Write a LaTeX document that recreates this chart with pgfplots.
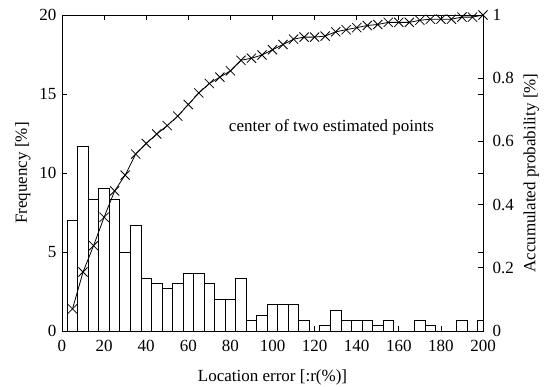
\documentclass[border=0pt]{standalone}
\usepackage{fontspec}
\setmainfont{Liberation Serif}
\usepackage{pgfplots}
\pgfplotsset{compat=1.18}
\pgfplotsset{every axis/.append style={font=\fontsize{17}{20}\selectfont, /pgf/number format/assume math mode=true}}
\begin{document}
\begin{tikzpicture}
\begin{axis}[
  at={(0,0)}, anchor=south west,
  scale only axis, width=421pt, height=316pt,
  xmin=0, xmax=200, ymin=0, ymax=20,
  xtick={0,20,...,200}, ytick={0,5,...,20},
  tick align=inside, tick pos=both,
  major tick length=5pt,
  axis line style={line width=0.9pt},
  every tick/.style={black, line width=0.8pt},
  xticklabel shift=6pt,
  yticklabel shift=2pt,
  xlabel={Location error [:r(\%)]},
  xlabel shift=11pt,
  ylabel={Frequency [\%]},
  ylabel shift=2pt,
  clip=true,
]
\addplot[ybar, bar width=5, fill=white, draw=black, line width=0.8pt] coordinates {
(5,7.0) (10,11.67) (15,8.33) (20,9.0) (25,8.33) (30,5.0) (35,6.67) (40,3.33)
(45,3.0) (50,2.67) (55,3.0) (60,3.67) (65,3.67) (70,3.0) (75,2.0) (80,2.0)
(85,3.33) (90,0.67) (95,1.0) (100,1.67) (105,1.67) (110,1.67) (115,0.67) (120,0)
(125,0.33) (130,1.33) (135,0.67) (140,0.67) (145,0.67) (150,0.33) (155,0.67) (160,0)
(165,0) (170,0.67) (175,0.33) (180,0) (185,0) (190,0.67) (195,0) (200,0.67)
};
\node[anchor=center] at (axis cs:128,12.9) {center of two estimated points};
\end{axis}
\begin{axis}[
  at={(0,0)}, anchor=south west,
  scale only axis, width=421pt, height=316pt,
  xmin=0, xmax=200, ymin=0, ymax=1,
  axis y line*=right, axis x line=none,
  ytick={0,0.2,...,1},
  yticklabel style={/pgf/number format/fixed},
  yticklabel shift=6pt,
  tick align=inside,
  major tick length=5pt,
  axis line style={line width=0.9pt},
  every tick/.style={black, line width=0.8pt},
  ylabel={Accumulated probability [\%]},
  ylabel shift=3pt,
  clip=false,
]
\addplot[black, line width=0.8pt, mark=x, mark size=6.5pt] coordinates {
(5,0.07) (10,0.1867) (15,0.27) (20,0.36) (25,0.4433) (30,0.4933) (35,0.56) (40,0.5933)
(45,0.6233) (50,0.65) (55,0.68) (60,0.7167) (65,0.7533) (70,0.7833) (75,0.8033) (80,0.8233)
(85,0.8567) (90,0.8633) (95,0.8733) (100,0.89) (105,0.9067) (110,0.9233) (115,0.93) (120,0.93)
(125,0.9333) (130,0.9467) (135,0.9533) (140,0.96) (145,0.9667) (150,0.97) (155,0.9767) (160,0.9767)
(165,0.9767) (170,0.9833) (175,0.9867) (180,0.9867) (185,0.9867) (190,0.9933) (195,0.9933) (200,1.0)
};
\end{axis}
\pgfresetboundingbox
\useasboundingbox (-62pt,-56pt) rectangle (484pt,331pt);
\end{tikzpicture}
\end{document}
